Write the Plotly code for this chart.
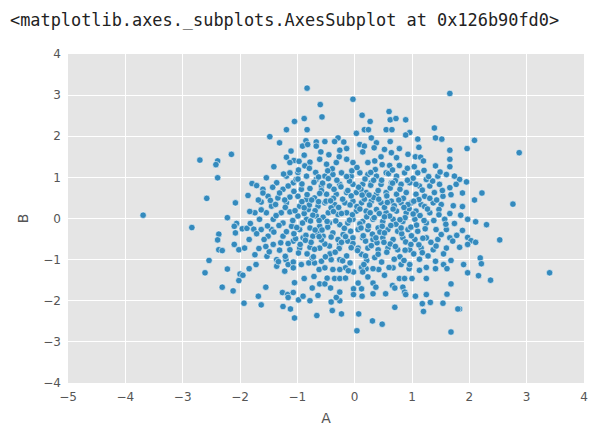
import plotly.graph_objects as go

# Points (A, B)
pts_outer = [
    (-2.70,1.42),(-2.39,1.40),(-2.42,1.31),(-2.15,1.56),
    (-2.39,0.99),(-2.58,0.49),(-2.08,0.38),(-3.69,0.08),(-2.22,0.02),(-2.84,-0.22),(-2.06,-0.12),(-2.10,-0.19),
    (-2.08,-0.35),(-2.37,-0.38),(-2.39,-0.52),(-2.10,-0.63),(-2.37,-0.76),(-2.31,-0.78),(-2.02,-0.76),
    (-2.54,-1.02),(-2.22,-1.23),(-2.61,-1.32),(-2.02,-1.51),(-2.31,-1.67),(-2.12,-1.76),(-2.00,-1.35),
    (2.09,1.90),(1.96,1.70),(2.87,1.60),
    (1.95,0.89),(1.83,0.95),(1.88,0.62),(2.22,0.62),(2.09,0.45),(2.76,0.35),(1.88,0.29),(1.85,0.08),(1.97,-0.02),
    (2.11,-0.08),(2.30,-0.15),(1.88,-0.29),(1.97,-0.46),(2.03,-0.54),(2.11,-0.58),(1.97,-0.63),(2.53,-0.52),(1.83,-0.70),
    (2.19,-0.96),(1.90,-1.12),(2.21,-1.10),(1.97,-1.32),(2.16,-1.39),(2.37,-1.50),(3.40,-1.32),(1.83,-2.20),
]
pts_top = [
    (-0.83,3.17),(-0.60,2.77),(-0.57,2.47),(-1.05,2.36),(-0.88,2.43),(-1.19,2.16),(-0.83,2.16),(-1.48,1.99),(-1.31,1.84),
    (-0.85,1.89),(-0.91,1.76),(-0.82,1.80),(-0.67,1.86),(-0.52,1.87),(-0.67,1.76),(-0.29,1.96),(-0.35,1.87),(-0.19,1.86),
    (-1.11,1.64),(-0.88,1.54),(-0.59,1.62),(-0.26,1.66),(-0.14,1.70),(-1.19,1.49),(-1.06,1.41),(-0.97,1.39),(-0.78,1.37),
    (-0.61,1.44),(-0.45,1.55),(-0.27,1.50),(-1.41,1.26),(-1.13,1.36),(-0.87,1.28),(-0.49,1.32),(-0.32,1.36),(-0.14,1.44),
    (-0.03,2.90),(1.66,3.04),(0.60,2.60),(0.13,2.51),(0.62,2.40),(0.72,2.43),(0.89,2.40),(0.27,2.36),(0.17,2.16),(0.24,2.16),
    (0.55,2.16),(0.65,2.16),(1.39,2.20),(0.03,2.07),(0.96,2.09),(0.89,2.03),(1.41,1.96),(1.52,1.93),(1.10,1.93),(0.29,1.96),
    (0.62,1.87),(0.09,1.80),(0.38,1.84),(0.17,1.76),(0.34,1.72),(1.12,1.73),(1.66,1.66),(0.52,1.68),(0.78,1.70),(0.14,1.62),
    (0.64,1.60),(0.93,1.56),(0.73,1.48),(0.46,1.50),(1.06,1.50),(1.15,1.49),(1.20,1.40),(1.66,1.44),(1.41,1.28),(1.66,1.26),
    (0.35,1.40),(0.23,1.36),(0.61,1.29),(0.78,1.29),(-0.03,1.36),
]
pts_bottom = [
    (1.68,-1.02),(1.55,-1.12),(1.41,-1.22),(1.61,-1.22),(1.25,-1.19),(1.13,-1.26),(1.68,-1.59),(1.25,-1.46),(1.00,-1.46),
    (1.61,-1.84),(1.25,-1.85),(1.06,-1.89),(1.18,-2.07),(1.32,-2.04),(1.54,-2.06),(1.80,-2.20),(1.20,-2.26),(0.70,-2.16),
    (0.07,-2.32),(0.31,-2.49),(0.48,-2.57),(0.04,-2.73),(1.68,-2.76),(0.78,-1.46),(0.87,-1.46),(0.84,-1.67),(0.87,-1.79),
    (0.89,-1.85),(0.54,-1.83),(0.32,-1.83),(0.66,-1.63),(0.70,-1.69),(0.32,-1.57),(0.37,-1.67),(0.12,-1.71),(-0.02,-1.71),
    (-0.02,-1.85),(0.13,-1.89),(0.06,-1.57),(1.13,-0.99),(0.95,-1.22),(0.96,-1.12),(0.81,-1.12),(0.67,-1.20),(0.60,-1.19),
    (0.42,-1.24),(0.32,-1.22),(0.20,-1.22),(0.12,-1.19),(-0.02,-1.30),(0.14,-1.30),
    (-1.53,-0.92),(-1.36,-1.00),(-1.20,-1.00),(-1.72,-1.12),(-1.84,-1.22),(-1.95,-1.38),(-1.55,-1.67),(-1.68,-1.89),
    (-1.93,-2.06),(-1.63,-2.10),(-1.26,-1.80),(-1.17,-1.85),(-1.07,-1.80),(-1.16,-1.92),(-1.05,-1.56),(-1.25,-2.14),
    (-1.12,-2.20),(-1.05,-2.42),(-0.98,-1.98),(-0.90,-1.89),(-0.78,-2.00),(-0.66,-2.36),(-0.88,-1.46),(-0.74,-1.69),
    (-0.64,-1.87),(-0.41,-2.03),(-0.26,-2.00),(-0.39,-2.24),(-0.23,-2.32),(-0.32,-1.92),(-0.42,-1.69),(-0.26,-1.79),
    (-0.61,-1.59),(-0.52,-1.59),(-0.71,-1.41),(-0.62,-1.24),(-0.48,-1.45),(-0.35,-1.46),(-0.26,-1.46),(-0.16,-1.20),
    (-0.16,-1.45),(-1.36,-1.16),(-1.16,-1.12),(-1.07,-1.06),(-1.07,-1.20),(-0.80,-1.08),(-0.70,-1.08),(-0.58,-1.04),
    (-0.41,-1.00),(-0.26,-1.00),(-0.52,-1.20),(-0.38,-1.24),(-0.26,-1.24),(-0.74,-0.96),
]
pts_center = [
    (-1.96,-0.25),(-1.88,-0.24),(-1.76,-0.26),(-1.86,0.56),(-1.79,0.85),(-1.71,0.80),(-1.74,0.14),(-1.66,-0.02),
    (-1.63,-0.27),(-1.84,-0.51),(-1.92,-0.72),(-1.67,-0.73),(-1.54,0.99),(-1.60,0.71),(-1.51,0.54),(-1.63,0.40),
    (-1.45,0.30),(-1.54,0.14),(-1.42,-0.02),(-1.45,-0.27),(-1.51,-0.43),(-1.42,-0.63),(-1.31,-0.77),(-1.36,0.87),
    (-1.25,0.71),(-1.34,0.50),(-1.19,0.38),(-1.28,0.14),(-1.13,0.16),(-1.25,-0.11),(-1.10,-0.19),(-1.25,-0.43),
    (-1.07,-0.55),(-1.13,-0.76),(-1.19,1.03),(-1.07,0.87),(-1.13,1.11),(-0.99,1.12),(-0.84,1.03),(-0.93,0.71),
    (-0.78,0.73),(-0.99,0.54),(-0.84,0.46),(-0.70,0.50),(-0.96,0.30),(-0.81,0.22),(-0.64,0.30),(-0.99,0.06),
    (-0.84,-0.02),(-0.67,0.06),(-0.96,-0.27),(-0.78,-0.23),(-0.61,-0.19),(-0.90,-0.47),(-0.73,-0.43),(-0.55,-0.43),
    (-0.96,-0.72),(-0.78,-0.70),(-0.61,-0.72),(-0.44,-0.67),(-0.26,-0.63),(-0.67,0.95),(-0.52,1.03),(-0.38,1.07),
    (-0.23,1.11),(-0.58,0.79),(-0.44,0.79),(-0.26,0.83),(-0.49,0.59),(-0.32,0.59),(-0.14,0.63),(-0.52,0.38),
    (-0.35,0.34),(-0.17,0.38),(-0.46,0.14),(-0.29,0.10),(-0.14,0.14),(-0.44,-0.11),(-0.26,-0.15),(-0.12,-0.11),
    (-0.38,-0.35),(-0.20,-0.39),(-0.12,-0.55),
    (-0.06,1.03),(0.09,1.11),(0.23,1.07),(0.38,1.03),(0.55,1.11),(0.73,1.03),(0.87,1.11),(1.10,1.11),(1.25,0.95),
    (1.45,1.03),(1.60,1.07),(1.74,1.03),(-0.03,0.83),(0.14,0.83),(0.29,0.87),(0.46,0.83),(0.64,0.87),(0.81,0.83),
    (0.96,0.87),(1.13,0.79),(1.31,0.79),(1.48,0.83),(1.66,0.75),(0.03,0.63),(0.20,0.63),(0.38,0.59),(0.55,0.63),
    (0.73,0.59),(0.90,0.63),(1.07,0.59),(1.22,0.54),(1.39,0.63),(1.54,0.54),(-0.03,0.42),(0.12,0.38),(0.29,0.42),
    (0.46,0.38),(0.64,0.42),(0.81,0.38),(0.99,0.38),(1.16,0.34),(1.37,0.38),(1.51,0.34),(0.03,0.18),(0.20,0.18),
    (0.38,0.22),(0.55,0.14),(0.73,0.18),(0.90,0.14),(1.07,0.18),(1.31,0.14),(-0.03,-0.02),(0.14,-0.07),(0.32,-0.02),
    (0.49,-0.07),(0.67,-0.02),(0.84,-0.07),(1.05,-0.02),(1.25,-0.11),(1.57,-0.02),(0.06,-0.27),(0.23,-0.27),
    (0.41,-0.23),(0.58,-0.27),(0.75,-0.31),(0.93,-0.27),(1.10,-0.31),(1.42,-0.27),(1.60,-0.27),(-0.03,-0.47),
    (0.14,-0.47),(0.32,-0.51),(0.49,-0.47),(0.67,-0.51),(0.84,-0.47),(1.05,-0.51),(1.25,-0.47),(1.45,-0.51),
    (1.66,-0.47),(0.06,-0.72),(0.23,-0.72),(0.41,-0.76),(0.58,-0.72),(0.75,-0.76),(0.96,-0.76),(1.16,-0.72),
    (1.37,-0.76),(1.60,-0.72),
]
pts_fill = [
    (-1.02,0.95),(-0.71,0.88),(-0.46,0.97),(-0.09,0.91),(0.18,0.96),(0.47,0.93),(0.71,0.92),(1.02,0.98),(1.36,0.91),
    (-1.31,0.62),(-1.06,0.66),(-0.83,0.58),(-0.58,0.68),(-0.37,0.49),(-0.06,0.55),(0.11,0.71),(0.33,0.51),(0.62,0.74),
    (0.85,0.49),(1.18,0.69),(1.43,0.45),(1.68,0.58),(-1.47,0.44),(-1.21,0.27),(-0.92,0.41),(-0.69,0.19),(-0.41,0.26),
    (-0.21,0.47),(0.04,0.29),(0.26,0.33),(0.52,0.27),(0.69,0.31),(0.95,0.24),(1.22,0.29),(1.47,0.22),(1.72,0.31),
    (-1.63,0.21),(-1.37,0.07),(-1.08,-0.05),(-0.88,0.12),(-0.55,0.03),(-0.33,-0.06),(-0.04,0.09),(0.21,0.04),
    (0.43,0.12),(0.61,0.06),(0.88,0.02),(1.14,0.07),(1.38,-0.05),(1.66,0.12),(-1.82,-0.12),(-1.52,-0.18),
    (-1.19,-0.32),(-0.91,-0.11),(-0.64,-0.36),(-0.47,-0.21),(-0.18,-0.24),(0.09,-0.13),(0.31,-0.38),(0.48,-0.19),
    (0.72,-0.14),(0.99,-0.42),(1.23,-0.25),(1.51,-0.39),(1.74,-0.12),(-1.58,-0.51),(-1.29,-0.59),(-1.03,-0.49),
    (-0.76,-0.58),(-0.52,-0.62),(-0.29,-0.51),(-0.03,-0.61),(0.19,-0.55),(0.39,-0.59),(0.62,-0.62),(0.89,-0.57),
    (1.12,-0.64),(1.33,-0.58),(1.71,-0.55),(-1.74,-0.88),(-1.49,-0.81),(-1.21,-0.92),(-0.98,-0.84),(-0.72,-0.93),
    (-0.43,-0.86),(-0.14,-0.91),(0.12,-0.87),(0.35,-0.95),(0.56,-0.82),(0.79,-0.93),(1.03,-0.86),(1.28,-0.91),
    (1.55,-0.86),(-0.08,-1.08),(0.21,-1.02),(0.47,-1.06),(0.69,-0.99),(1.41,-1.04),(-0.93,-1.12),(-1.22,-1.28),
    (-0.11,-1.27),(0.23,-1.42),(0.52,-1.38),(-0.98,1.18),(-0.68,1.12),(-0.39,1.21),(-0.05,1.16),(0.36,1.19),
    (0.59,1.09),(0.92,1.22),(1.21,1.17),(1.49,1.13),(-1.24,1.08),(-0.62,-0.05),(-0.12,0.68),(0.44,-0.33),(0.77,0.45),
    (-0.27,-0.73),(0.98,-0.21),(-0.79,0.33),(0.28,0.81),(-1.41,-0.33),(1.31,0.49),(-0.50,0.42),(-0.23,0.12),
    (0.15,-0.42),(0.56,0.55),(-0.85,-0.41),(1.07,0.83),(-1.13,0.52),(0.82,-0.37),(-0.36,0.71),(0.05,-0.78),
    (-0.70,-0.75),(0.34,0.02),(1.19,-0.48),(-1.60,0.62),(0.66,0.86),(-0.16,-0.44),(0.93,0.34),(-0.95,-0.63),
    (0.25,0.57),(-0.57,-0.28),
]
pts_dense = [
    (-0.92,0.84),(-0.61,0.61),(-0.31,0.93),(0.07,0.76),(0.41,0.68),(0.79,0.71),(1.12,0.46),(-1.16,0.79),
    (-0.75,0.45),(-0.42,0.43),(-0.08,0.33),(0.17,0.47),(0.57,0.39),(0.86,0.27),(1.27,0.23),(-1.38,0.34),
    (-1.04,0.19),(-0.73,0.08),(-0.37,0.17),(-0.09,-0.04),(0.27,0.14),(0.52,0.04),(0.79,-0.03),(1.02,0.11),
    (-1.32,-0.17),(-1.01,-0.22),(-0.69,-0.28),(-0.41,-0.45),(-0.07,-0.31),(0.24,-0.18),(0.52,-0.35),(0.81,-0.23),
    (1.08,-0.16),(-1.16,-0.61),(-0.86,-0.53),(-0.58,-0.52),(-0.34,-0.82),(-0.06,-0.71),(0.29,-0.66),(0.51,-0.58),
    (0.71,-0.68),(0.98,-0.63),(-0.51,-0.93),(-0.21,-1.03),(0.16,-1.12),(0.41,-0.87),(0.86,-1.02),(-0.63,1.01),
    (-0.14,1.02),(0.28,1.12),(0.66,1.18),(1.04,1.26),(-0.79,1.22),(-0.47,1.16),(0.04,1.24),(0.48,1.31),
    (-1.43,0.76),(-1.68,0.45),(-1.83,0.17),(-1.71,-0.37),(-1.55,-0.68),(-1.33,-1.05),(1.42,-0.67),(1.59,-0.14),
    (1.53,0.68),(1.29,1.02),(1.77,0.83),(1.78,-0.41),(1.47,0.09),(1.18,-0.83),(-0.99,0.96),(-0.24,0.77),
    (0.33,0.93),(0.92,0.93),(-0.56,0.86),(0.13,0.57),(-0.88,0.26),(0.42,0.47),(-0.63,0.41),(0.67,0.23),
    (-0.28,0.27),(0.09,0.23),(-1.22,0.45),(1.03,0.42),(-0.48,-0.07),(0.11,-0.23),(-0.77,-0.06),(0.63,-0.17),
    (-0.23,-0.58),(0.37,-0.47),(-0.83,-0.86),(0.19,-0.91),(-0.62,-0.44),(0.88,-0.77),(-1.06,-0.37),(1.21,-0.05),
]

all_pts = pts_outer + pts_top + pts_bottom + pts_center + pts_fill + pts_dense
A = [p[0] for p in all_pts]
B = [p[1] for p in all_pts]

x_ticks = [-5, -4, -3, -2, -1, 0, 1, 2, 3, 4]
y_ticks = [-4, -3, -2, -1, 0, 1, 2, 3, 4]

fig = go.Figure(go.Scatter(
    x=A, y=B, mode="markers",
    marker=dict(color="#348ABD", size=6.5,
                line=dict(color="rgba(255,255,255,0.7)", width=0.8)),
    showlegend=False, hoverinfo="skip",
))

axis_common = dict(showgrid=True, gridcolor="white", gridwidth=1, zeroline=False,
                   showline=False, ticks="", automargin=False,
                   tickfont=dict(family="DejaVu Sans", size=12, color="#555555"),
                   title_font=dict(family="DejaVu Sans", size=14, color="#555555"))

fig.update_xaxes(range=[-5, 4], tickvals=x_ticks, title_text="A", title_standoff=10,
                 ticklabelstandoff=5, **axis_common)
fig.update_yaxes(range=[-4, 4], tickvals=y_ticks, title_text="B", title_standoff=11,
                 ticklabelstandoff=6, **axis_common)

# page body adds an 8px offset; figure is sized so the plot area lands where the reference has it
ML, MT = 60, 46
fig.add_annotation(
    text="&lt;matplotlib.axes._subplots.AxesSubplot at 0x126b90fd0&gt;",
    xref="paper", yref="paper", x=(0 - ML) / 516, y=(MT + 329 - 12) / 329,
    xanchor="left", yanchor="middle", showarrow=False,
    font=dict(family="DejaVu Sans Mono", size=16.9, color="#222222"),
)

fig.update_layout(
    width=599, height=425,
    margin=dict(l=ML, r=23, t=MT, b=50),
    paper_bgcolor="white", plot_bgcolor="#E5E5E5",
)

fig.write_html("out.html")
